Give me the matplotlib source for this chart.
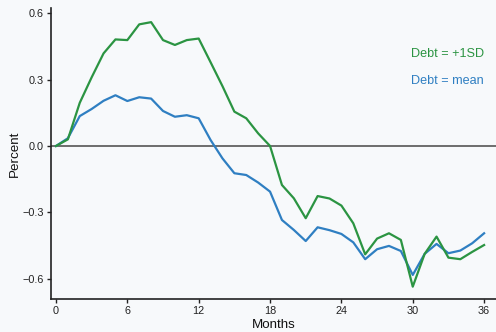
import matplotlib.pyplot as plt
import numpy as np

plt.rcParams['font.family'] = ['Liberation Sans', 'DejaVu Sans']

# Impulse responses (percent) by month after the shock
months = np.arange(0, 37)
debt_high = [0.0, 0.03, 0.195, 0.31, 0.418, 0.481, 0.478, 0.549, 0.559, 0.478,
             0.456, 0.478, 0.485, 0.378, 0.27, 0.155, 0.125, 0.057, 0.0, -0.176,
             -0.236, -0.326, -0.226, -0.237, -0.269, -0.349, -0.489, -0.418, -0.394,
             -0.424, -0.635, -0.487, -0.409, -0.504, -0.511, -0.478, -0.447]
debt_mean = [0.0, 0.035, 0.135, 0.167, 0.204, 0.229, 0.203, 0.22, 0.214, 0.158,
             0.132, 0.139, 0.125, 0.027, -0.056, -0.123, -0.131, -0.165, -0.206, -0.334,
             -0.379, -0.429, -0.367, -0.38, -0.397, -0.435, -0.511, -0.466, -0.451,
             -0.474, -0.582, -0.487, -0.442, -0.484, -0.472, -0.439, -0.394]

green = '#2b9442'
blue = '#2f7fc2'
bg = '#f7f9fb'

fig = plt.figure(figsize=(4.96, 3.32), dpi=100, facecolor=bg)
ax = fig.add_axes([0.1028, 0.0985, 0.8972, 0.8775], facecolor=bg)

ax.axhline(0, color='#555555', lw=1.2, zorder=1)
ax.plot(months, debt_high, color=green, lw=1.6, zorder=3)
ax.plot(months, debt_mean, color=blue, lw=1.6, zorder=2)

ax.set_xlim(-0.42, 37.0)
ax.set_ylim(-0.692, 0.623)
ax.set_xticks(np.arange(0, 37, 6))
ax.set_yticks([-0.6, -0.3, 0.0, 0.3, 0.6])
ax.set_yticklabels(['\u22120.6', '\u22120.3', '0.0', '0.3', '0.6'])

for side in ['top', 'right']:
    ax.spines[side].set_visible(False)
for side in ['left', 'bottom']:
    ax.spines[side].set_color('#222222')
    ax.spines[side].set_linewidth(1.2)
ax.tick_params(length=3, width=1, color='#222222', labelsize=7.8,
               labelcolor='#222222', pad=2)

ax.set_xlabel('Months', fontsize=9.6, labelpad=2, color='#111111')
ax.set_ylabel('Percent', fontsize=9.6, labelpad=1, color='#111111')

fig.text(0.828, 0.837, 'Debt = +1SD', color=green, fontsize=9.1, va='center')
fig.text(0.828, 0.757, 'Debt = mean', color=blue, fontsize=9.1, va='center')

fig.savefig('out.png', dpi=100, facecolor=bg)
